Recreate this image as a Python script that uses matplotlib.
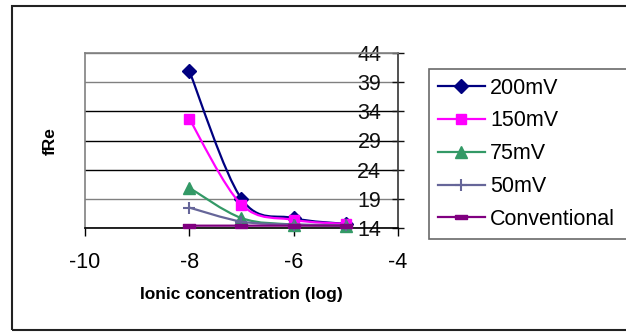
import matplotlib
matplotlib.use("Agg")
import matplotlib.pyplot as plt
import numpy as np
from matplotlib.path import Path
from matplotlib.patches import PathPatch, Rectangle
from matplotlib.lines import Line2D

plt.rcParams["font.family"] = ["Liberation Sans", "DejaVu Sans"]
plt.rcParams["axes.unicode_minus"] = False

# data
conc_log = [-8, -7, -6, -5]
series_names = ["200mV", "150mV", "75mV", "50mV", "Conventional"]
fre_200 = [40.9, 19.0, 15.7, 14.7]
fre_150 = [32.7, 18.0, 15.4, 14.7]
fre_75 = [20.9, 15.7, 14.6, 14.4]
fre_50 = [17.5, 15.1, 14.6, 14.5]
fre_conv = [14.4, 14.4, 14.4, 14.4]
y_ticks = [14, 19, 24, 29, 34, 39, 44]
x_ticks = [-10, -8, -6, -4]

all_series = [fre_200, fre_150, fre_75, fre_50, fre_conv]
colors = ["#000080", "#FF00FF", "#339966", "#666699", "#800080"]
dash = [(-1.5, -0.5), (1.5, -0.5), (1.5, 0.5), (-1.5, 0.5), (-1.5, -0.5)]
markers = ["D", "s", "^", "+", dash]
msizes = [7, 7.5, 8.5, 9, 9]


def smooth_path(xs, ys):
    # excel style smoothed line: catmull-rom turned into bezier segments
    pts = np.column_stack([xs, ys]).astype(float)
    n = len(pts)
    verts = [pts[0]]
    codes = [Path.MOVETO]
    for i in range(n - 1):
        p0 = pts[max(i - 1, 0)]
        p1 = pts[i]
        p2 = pts[i + 1]
        p3 = pts[min(i + 2, n - 1)]
        c1 = p1 + (p2 - p0) / 6.0
        c2 = p2 - (p3 - p1) / 6.0
        verts += [c1, c2, p2]
        codes += [Path.CURVE4] * 3
    return Path(verts, codes)


fig = plt.figure(figsize=(6.26, 3.32), dpi=100)

# outer chart border
fig.patches.append(Rectangle((12 / 626, 2 / 332), 0.99, 324 / 332,
                             transform=fig.transFigure, fill=False,
                             edgecolor="#222222", lw=1.5, clip_on=False))

ax = fig.add_axes([85 / 626, 1 - 228 / 332, 313 / 626, 175 / 332])
ax.set_xlim(-10, -4)
ax.set_ylim(14, 44)

for i, (vals, c, m, ms) in enumerate(zip(all_series, colors, markers, msizes)):
    patch = PathPatch(smooth_path(conc_log, vals), fill=False, edgecolor=c,
                      lw=1.6, zorder=3 + i)
    ax.add_patch(patch)
    mew = 1.5 if m == "+" else 1
    ax.plot(conc_log, vals, linestyle="none", marker=m, markersize=ms,
            color=c, markeredgewidth=mew, zorder=3 + i, clip_on=False)

# axes look
ax.spines["top"].set_color("#808080")
ax.spines["left"].set_color("#808080")
ax.spines["right"].set_color("#333333")
ax.spines["bottom"].set_color("black")
for s in ax.spines.values():
    s.set_linewidth(1.2)

ax.set_yticks(y_ticks)
ax.set_xticks(x_ticks)
ax.yaxis.tick_right()
ax.tick_params(axis="y", direction="inout", length=8, width=1, pad=-16,
               labelsize=15.5, colors="#111111")
for lab in ax.get_yticklabels():
    lab.set_horizontalalignment("right")
ax.tick_params(axis="x", direction="out", length=6, width=1, pad=11,
               labelsize=15.5)

ax.grid(axis="y", color="black", lw=1)
for val, gl in zip(y_ticks, ax.yaxis.get_gridlines()):
    if val in (19, 39, 44):
        gl.set_color("#808080")

fig.text(241 / 626, 1 - 295 / 332,
         "Ionic concentration (log)", ha="center", va="center",
         fontsize=12.5, fontweight="bold")
fig.text(50 / 626, 1 - 141 / 332, "fRe", ha="center", va="center",
         rotation=90, fontsize=12.5, fontweight="bold")

handles = [Line2D([], [], color=c, lw=1.6, marker=m, markersize=ms,
                  markeredgewidth=1.5 if m == "+" else 1)
           for c, m, ms in zip(colors, markers, msizes)]
leg = fig.legend(handles, series_names, loc="upper left",
                 bbox_to_anchor=(429 / 626, 1 - 69 / 332, 0.4, 0.0),
                 mode="expand", fontsize=15.5, frameon=True, fancybox=False,
                 handlelength=2.2, handletextpad=0.25, labelspacing=0.55,
                 borderpad=0.4, borderaxespad=0)
leg.get_frame().set_edgecolor("#444444")
leg.get_frame().set_linewidth(1.2)

fig.savefig("out.png", dpi=100)
